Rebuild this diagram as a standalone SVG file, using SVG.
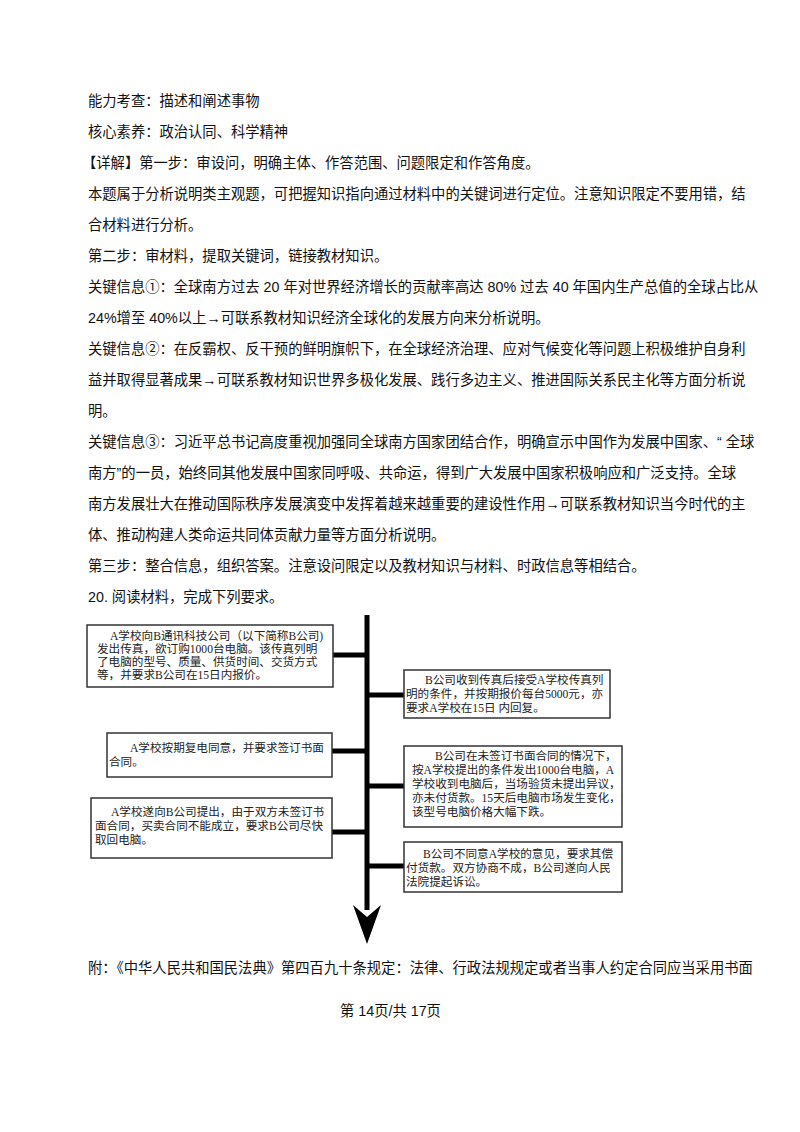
<svg xmlns="http://www.w3.org/2000/svg" width="800" height="1132" viewBox="0 0 800 1132">
<style>
.t{font-family:"Liberation Sans","Noto Sans CJK SC",sans-serif;font-size:14.3px;fill:#111}
.b{font-family:"Liberation Serif","Noto Sans CJK SC",serif;font-size:11.6px;fill:#222}
.box{fill:#fff;stroke:#333;stroke-width:1.5}
.c{stroke:#000;stroke-width:5;fill:none}
</style>
<rect width="800" height="1132" fill="#fff"/>
<g class="t">
<text x="88" y="106">能力考查：描述和阐述事物</text>
<text x="88" y="137">核心素养：政治认同、科学精神</text>
<text x="82" y="168">【详解】第一步：审设问，明确主体、作答范围、问题限定和作答角度。</text>
<text x="88" y="199">本题属于分析说明类主观题，可把握知识指向通过材料中的关键词进行定位。注意知识限定不要用错，结</text>
<text x="88" y="230">合材料进行分析。</text>
<text x="88" y="261">第二步：审材料，提取关键词，链接教材知识。</text>
<text x="88" y="292">关键信息①：全球南方过去 20 年对世界经济增长的贡献率高达 80% 过去 40 年国内生产总值的全球占比从</text>
<text x="88" y="323">24%增至 40%以上→可联系教材知识经济全球化的发展方向来分析说明。</text>
<text x="88" y="354">关键信息②：在反霸权、反干预的鲜明旗帜下，在全球经济治理、应对气候变化等问题上积极维护自身利</text>
<text x="88" y="385">益并取得显著成果→可联系教材知识世界多极化发展、践行多边主义、推进国际关系民主化等方面分析说</text>
<text x="88" y="416">明。</text>
<text x="88" y="447">关键信息③：习近平总书记高度重视加强同全球南方国家团结合作，明确宣示中国作为发展中国家、“ 全球</text>
<text x="88" y="478">南方”的一员，始终同其他发展中国家同呼吸、共命运，得到广大发展中国家积极响应和广泛支持。全球</text>
<text x="88" y="509">南方发展壮大在推动国际秩序发展演变中发挥着越来越重要的建设性作用→可联系教材知识当今时代的主</text>
<text x="88" y="540">体、推动构建人类命运共同体贡献力量等方面分析说明。</text>
<text x="88" y="571">第三步：整合信息，组织答案。注意设问限定以及教材知识与材料、时政信息等相结合。</text>
<text x="88" y="602">20. 阅读材料，完成下列要求。</text>
<text x="88" y="973">附：《中华人民共和国民法典》第四百九十条规定：法律、行政法规规定或者当事人约定合同应当采用书面</text>
<text x="340" y="1016">第 14页/共 17页</text>
</g>
<g id="connectors">
<line class="c" x1="367" y1="615" x2="367" y2="910"/>
<polygon points="353,905 367,917 381,905 367,944" fill="#000"/>
<line class="c" x1="333" y1="655" x2="367" y2="655"/>
<line class="c" x1="332" y1="751" x2="367" y2="751"/>
<line class="c" x1="332" y1="832" x2="367" y2="832"/>
<line class="c" x1="367" y1="695" x2="404" y2="695"/>
<line class="c" x1="367" y1="786" x2="404" y2="786"/>
<line class="c" x1="367" y1="866" x2="404" y2="866"/>
</g>
<g id="n1"><rect class="box" x="87" y="625" width="246" height="62"/>
<text class="b" x="110" y="640">A学校向B通讯科技公司（以下简称B公司)</text>
<text class="b" x="97" y="653">发出传真，欲订购1000台电脑。该传真列明</text>
<text class="b" x="97" y="666">了电脑的型号、质量、供货时间、交货方式</text>
<text class="b" x="97" y="679">等，并要求B公司在15日内报价。</text></g>
<g id="n2"><rect class="box" x="404" y="670" width="206" height="48"/>
<text class="b" x="425" y="684">B公司收到传真后接受A学校传真列</text>
<text class="b" x="406" y="698">明的条件，并按期报价每台5000元，亦</text>
<text class="b" x="406" y="712">要求A学校在15日 内回复。</text></g>
<g id="n3"><rect class="box" x="107" y="733" width="225" height="44"/>
<text class="b" x="130" y="752">A学校按期复电同意，并要求签订书面</text>
<text class="b" x="109" y="766">合同。</text></g>
<g id="n4"><rect class="box" x="404" y="746" width="218" height="81"/>
<text class="b" x="435" y="760">B公司在未签订书面合同的情况下，</text>
<text class="b" x="412" y="774">按A学校提出的条件发出1000台电脑，A</text>
<text class="b" x="412" y="788">学校收到电脑后，当场验货未提出异议，</text>
<text class="b" x="412" y="802">亦未付货款。15天后电脑市场发生变化，</text>
<text class="b" x="412" y="816">该型号电脑价格大幅下跌。</text></g>
<g id="n5"><rect class="box" x="91" y="798" width="241" height="60"/>
<text class="b" x="111" y="816">A学校遂向B公司提出，由于双方未签订书</text>
<text class="b" x="95" y="830">面合同，买卖合同不能成立，要求B公司尽快</text>
<text class="b" x="95" y="844">取回电脑。</text></g>
<g id="n6"><rect class="box" x="404" y="842" width="218" height="50"/>
<text class="b" x="423" y="858">B公司不同意A学校的意见，要求其偿</text>
<text class="b" x="406" y="872">付货款。双方协商不成，B公司遂向人民</text>
<text class="b" x="406" y="886">法院提起诉讼。</text></g>
</svg>
